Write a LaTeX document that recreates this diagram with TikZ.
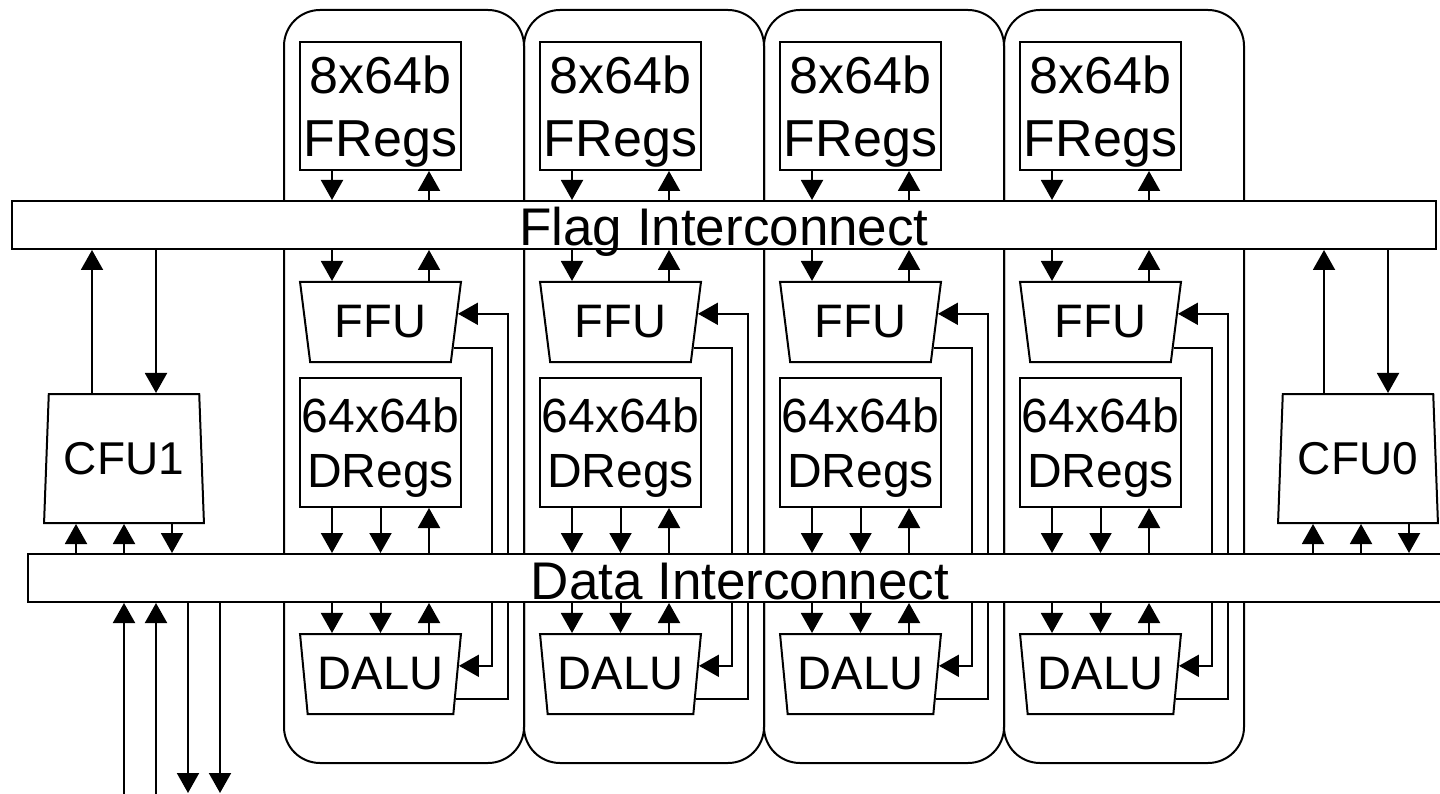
\documentclass[tikz,border=0pt]{standalone}
\usepackage{fontspec}
\setmainfont{Liberation Sans}
\usetikzlibrary{calc, arrows.meta, shapes.geometric}

\begin{document}
\begin{tikzpicture}[x=1pt, y=-1pt, line width=2pt,
    >={Triangle[width=22pt, length=20pt]},
    lane/.style={draw, rounded corners=36pt, minimum width=240pt,
        minimum height=753pt, inner sep=0pt},
    regs/.style={draw, fill=white, inner sep=0pt, minimum width=161pt,
        align=center, text depth=0pt},
    fu/.style={draw, fill=white, trapezium, trapezium stretches,
        trapezium left angle=101.3, trapezium right angle=101.3,
        inner sep=0pt, minimum width=161pt, minimum height=80pt,
        font=\fontsize{47pt}{47pt}\selectfont},
    cfu/.style={draw, fill=white, trapezium, trapezium stretches,
        trapezium left angle=83.4, trapezium right angle=83.4,
        inner sep=0pt, minimum width=160pt, minimum height=129pt,
        font=\fontsize{46pt}{46pt}\selectfont},
    bus/.style={draw, fill=white, inner sep=0pt, minimum width=1424pt,
        minimum height=48pt, text height=42pt, text depth=0pt,
        font=\fontsize{53pt}{53pt}\selectfont}]

    \useasboundingbox (0,0) rectangle (1440,794);

    % lanes
    \foreach \i in {0,...,3} {
        \pgfmathsetmacro{\cx}{380.5+240*\i}
        \node[lane] (lane\i) at (404+240*\i, 386.5) {};
        \node[regs, minimum height=128pt, font=\fontsize{52pt}{63pt}\selectfont]
            (fregs\i) at (\cx,106) {8x64b\\FRegs};
        \node[fu] (ffu\i) at (\cx,322) {FFU};
        \node[regs, minimum height=129pt, font=\fontsize{48pt}{55pt}\selectfont]
            (dregs\i) at (\cx,442.5) {64x64b\\DRegs};
        \node[fu] (dalu\i) at (\cx,674) {DALU};

        \coordinate (ffuin\i) at ($(ffu\i.top right corner)!0.4!(ffu\i.bottom right corner)$);
        \coordinate (ffuout\i) at ($(ffu\i.top right corner)!0.8125!(ffu\i.bottom right corner)$);
        \coordinate (daluin\i) at ($(dalu\i.top right corner)!0.4!(dalu\i.bottom right corner)$);
        \coordinate (daluout\i) at ($(dalu\i.top right corner)!0.8!(dalu\i.bottom right corner)$);
        \coordinate (s\i) at (492+240*\i,0);
        \coordinate (t\i) at (508+240*\i,0);

        \draw[->] (ffuout\i) -| (s\i |- daluin\i) -- (daluin\i);
        \draw[->] (daluout\i) -| (t\i |- ffuin\i) -- (ffuin\i);
    }

    % interconnects
    \node[bus] (flag) at (724,225) {Flag Interconnect};
    \node[bus] (data) at (740,578) {Data Interconnect};

    \foreach \i in {0,...,3} {
        \coordinate (p\i) at (332+240*\i,0);
        \coordinate (q\i) at (380.5+240*\i,0);
        \coordinate (r\i) at (429+240*\i,0);

        \draw[->] (fregs\i.south -| p\i) -- (flag.north -| p\i);
        \draw[<-] (fregs\i.south -| r\i) -- (flag.north -| r\i);
        \draw[->] (flag.south -| p\i) -- (ffu\i.north -| p\i);
        \draw[<-] (flag.south -| r\i) -- (ffu\i.north -| r\i);

        \draw[->] (dregs\i.south -| p\i) -- (data.north -| p\i);
        \draw[->] (dregs\i.south -| q\i) -- (data.north -| q\i);
        \draw[<-] (dregs\i.south -| r\i) -- (data.north -| r\i);
        \draw[->] (data.south -| p\i) -- (dalu\i.north -| p\i);
        \draw[->] (data.south -| q\i) -- (dalu\i.north -| q\i);
        \draw[<-] (data.south -| r\i) -- (dalu\i.north -| r\i);
    }

    % control units
    \node[cfu] (cfu1) at (124,458.5) {CFU1};
    \node[cfu] (cfu0) at (1358,458.5) {CFU0};

    \draw[->] ([xshift=-32pt]cfu1.north) -- ([xshift=-32pt]cfu1.north |- flag.south);
    \draw[<-] ([xshift=32pt]cfu1.north) -- ([xshift=32pt]cfu1.north |- flag.south);
    \draw[<-] ([xshift=-48pt]cfu1.south) -- ([xshift=-48pt]cfu1.south |- data.north);
    \draw[<-] (cfu1.south) -- (cfu1.south |- data.north);
    \draw[->] ([xshift=48pt]cfu1.south) -- ([xshift=48pt]cfu1.south |- data.north);

    \draw[->] ([xshift=-34pt]cfu0.north) -- ([xshift=-34pt]cfu0.north |- flag.south);
    \draw[<-] ([xshift=30pt]cfu0.north) -- ([xshift=30pt]cfu0.north |- flag.south);
    \draw[<-] ([xshift=-45pt]cfu0.south) -- ([xshift=-45pt]cfu0.south |- data.north);
    \draw[<-] ([xshift=3pt]cfu0.south) -- ([xshift=3pt]cfu0.south |- data.north);
    \draw[->] ([xshift=51pt]cfu0.south) -- ([xshift=51pt]cfu0.south |- data.north);

    % external ports
    \foreach \x/\n in {124/0, 156/1} {
        \coordinate (in\n) at (\x,800);
        \draw[->] (in\n) -- (data.south -| in\n);
    }
    \foreach \x/\n in {188/0, 220/1} {
        \coordinate (out\n) at (\x,793);
        \draw[->] (data.south -| out\n) -- (out\n);
    }
\end{tikzpicture}
\end{document}
